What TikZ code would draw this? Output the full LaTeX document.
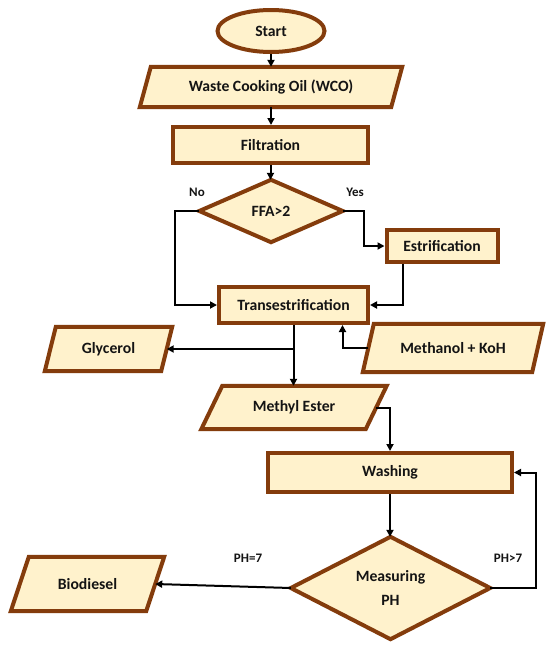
\documentclass[tikz,border=0pt]{standalone}
\usepackage{fontspec}
\setmainfont{Carlito}
\usetikzlibrary{shapes.geometric,arrows.meta,backgrounds}
\definecolor{brd}{HTML}{843C0C}
\definecolor{fil}{HTML}{FFF2CC}
\definecolor{txt}{HTML}{141414}
\tikzset{
  txtfont/.style={font=\fontsize{15.7}{24}\selectfont\bfseries, text=txt},
  box/.style={txtfont, draw=brd, fill=fil, line width=4pt, inner sep=0pt, align=center},
  plainnode/.style={txtfont, inner sep=0pt, align=center},
  shp/.style={draw=brd, fill=fil, line width=4pt, line join=miter},
  conn/.style={line width=2pt, draw=black, -{Triangle[length=7pt,width=7pt]}},
  lbl/.style={font=\fontsize{13}{15}\selectfont\bfseries, text=txt, inner sep=0pt}
}
\newcommand\drawpara[2]{%
  \path[shp] ([xshift=#2/2]#1.north west) -- ([xshift=#2/2]#1.north east)
    -- ([xshift=-#2/2]#1.south east) -- ([xshift=-#2/2]#1.south west) -- cycle;}
\newcommand\drawdiam[1]{%
  \path[shp] (#1.north) -- (#1.east) -- (#1.south) -- (#1.west) -- cycle;}
\begin{document}
\begin{tikzpicture}[x=1pt,y=-1pt]
\useasboundingbox (0,0) rectangle (550,648);
% nodes
\node[box, ellipse, minimum width=107, minimum height=42] (start) at (271,31) {Start};
\node[plainnode, minimum width=251, minimum height=40] (wco) at (271,87) {Waste Cooking Oil (WCO)};
\node[box, minimum width=195, minimum height=36] (filt) at (270.5,145) {Filtration};
\node[plainnode, minimum width=143, minimum height=62] (ffa) at (271,211) {FFA>2};
\node[box, minimum width=111, minimum height=32] (estr) at (442,246) {Estrification};
\node[box, minimum width=149, minimum height=36] (trans) at (293.5,305) {Transestrification};
\node[plainnode, minimum width=116, minimum height=44] (glyc) at (108.5,349) {Glycerol};
\node[plainnode, minimum width=169, minimum height=48] (meth) at (453,348) {Methanol + KoH};
\node[plainnode, minimum width=164, minimum height=43] (mest) at (294,407.5) {Methyl Ester};
\node[box, minimum width=244, minimum height=39] (wash) at (390,472.5) {Washing};
\node[plainnode, minimum width=199, minimum height=102] (meas) at (390.5,588) {Measuring\\PH};
\node[plainnode, minimum width=135, minimum height=54] (bio) at (87.5,584) {Biodiesel};
% labels
\node[lbl] (lno) at (197,192) {No};
\node[lbl] (lyes) at (355,192) {Yes};
\node[lbl] (lph7) at (248,558) {PH=7};
\node[lbl] (lphg) at (508,558) {PH>7};
% shapes on background
\begin{pgfonlayer}{background}
  \fill[white] (0,0) rectangle (550,648);
  \drawpara{wco}{11}
  \drawdiam{ffa}
  \drawpara{glyc}{11}
  \drawpara{meth}{11}
  \drawpara{mest}{21}
  \drawdiam{meas}
  \drawpara{bio}{18}
\end{pgfonlayer}
% connectors
\draw[conn] (start.south) -- (wco.north);
\draw[conn] (wco.south) -- (wco.south |- filt.north);
\draw[conn] (filt.south) -- (filt.south |- ffa.north);
\draw[conn] (ffa.west) -- ++(-24,0) |- (trans.west);
\draw[conn] (ffa.east) -- ++(21,0) |- (estr.west);
\draw[conn] ([xshift=-39]estr.south) |- (trans.east);
\draw[conn] (trans.south) -- (trans.south |- mest.north);
\draw[conn] (glyc.east -| trans.south) -- (glyc.east);
\draw[conn] (meth.west) -| ([xshift=49]trans.south);
\draw[conn] (mest.east) -| (wash.north);
\draw[conn] (wash.south) -- (wash.south |- meas.north);
\draw[conn] (meas.east) -- ++(45.5,0) |- (wash.east);
\draw[conn] (meas.west) -- (bio.east);
\end{tikzpicture}
\end{document}
